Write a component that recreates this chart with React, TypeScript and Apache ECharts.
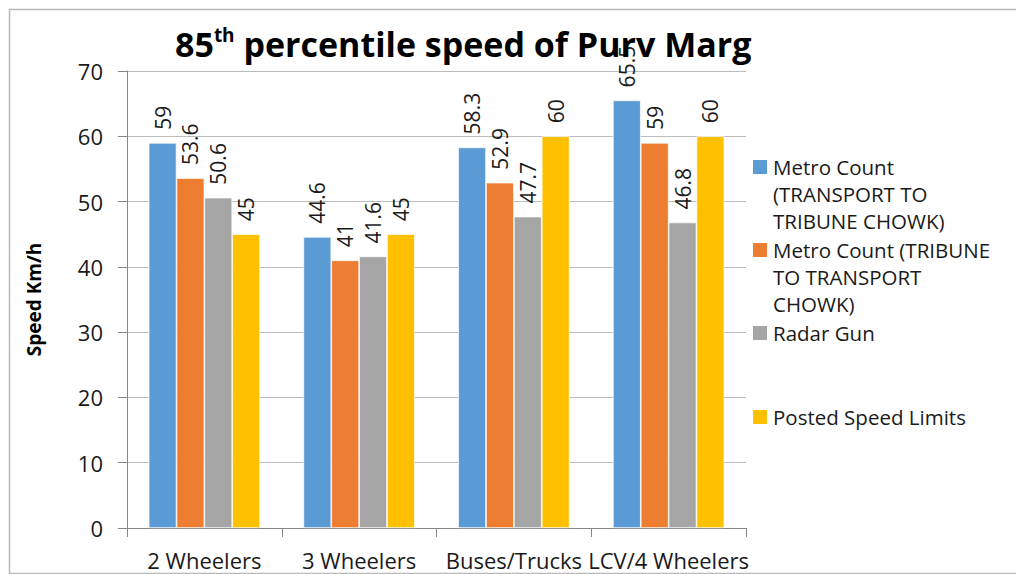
import React, { useEffect, useRef } from "react";
import * as echarts from "echarts";

const categories = ["2 Wheelers", "3 Wheelers", "Buses/Trucks", "LCV/4 Wheelers"];
const seriesNames = [
  "Metro Count (TRANSPORT TO TRIBUNE CHOWK)",
  "Metro Count (TRIBUNE TO TRANSPORT CHOWK)",
  "Radar Gun",
  "Posted Speed Limits",
];
const legendLines = [
  ["Metro Count", "(TRANSPORT TO", "TRIBUNE CHOWK)"],
  ["Metro Count (TRIBUNE", "TO TRANSPORT", "CHOWK)"],
  ["Radar Gun"],
  ["Posted Speed Limits"],
];
const metroTransportToTribune = [59, 44.6, 58.3, 65.5];
const metroTribuneToTransport = [53.6, 41, 52.9, 59];
const radarGun = [50.6, 41.6, 47.7, 46.8];
const postedLimits = [45, 45, 60, 60];
const colors = ["#5B9BD5", "#ED7D31", "#A5A5A5", "#FFC000"];
const yTicks = { min: 0, max: 70, interval: 10 };
const legendCenters = [167, 250, 333, 417];

const FONT = "'Open Sans', 'Noto Sans', sans-serif";

export default function App() {
  const ref = useRef<HTMLDivElement>(null);
  useEffect(() => {
    if (!ref.current) return;
    const chart = echarts.init(ref.current, null, { renderer: "svg" });
    const values = [metroTransportToTribune, metroTribuneToTransport, radarGun, postedLimits];
    const legendGraphics: any[] = [];
    const LH = 27;
    legendLines.forEach((lines, i) => {
      legendGraphics.push({
        type: "rect",
        left: 753,
        top: legendCenters[i] - 7,
        shape: { width: 14, height: 14 },
        style: { fill: colors[i] },
      });
      legendGraphics.push({
        type: "text",
        left: 773,
        top: legendCenters[i] - LH / 2,
        style: {
          text: lines.join("\n"),
          font: `20.5px ${FONT}`,
          fill: "#1a1a1a",
          lineHeight: LH,
        },
      });
    });
    chart.setOption({
      animation: false,
      textStyle: { fontFamily: FONT },
      title: {
        left: 170,
        top: 11,
        text: "{a|85}{s|th}{a| percentile speed of Purv Marg}",
        textStyle: {
          rich: {
            a: { fontSize: 34, fontWeight: "bold", color: "#000", fontFamily: FONT, lineHeight: 45, verticalAlign: "bottom" },
            s: {
              fontSize: 19,
              fontWeight: "bold",
              color: "#000",
              fontFamily: FONT,
              verticalAlign: "bottom",
              lineHeight: 22,
              padding: [0, 0, 17, 0],
            },
          },
        },
      },
      legend: { show: false, data: seriesNames },
      graphic: [
        {
          type: "rect",
          left: 7,
          top: 7,
          silent: true,
          shape: { width: 1030, height: 564 },
          style: { fill: "none", stroke: "#b9b9b9", lineWidth: 1.5 },
          z: -10,
        },
        ...legendGraphics,
      ],
      grid: { left: 127, right: 270, top: 71, bottom: 46, containLabel: false },
      xAxis: {
        type: "category",
        data: categories,
        axisLine: { lineStyle: { color: "#868686", width: 1 } },
        axisTick: { show: true, length: 9, lineStyle: { color: "#868686" } },
        axisLabel: { color: "#1a1a1a", fontSize: 22, margin: 21, fontFamily: FONT, interval: 0 },
      },
      yAxis: {
        type: "value",
        min: yTicks.min,
        max: yTicks.max,
        interval: yTicks.interval,
        name: "Speed Km/h",
        nameLocation: "middle",
        nameGap: 84,
        nameTextStyle: { fontSize: 19, fontWeight: "bold", color: "#000", fontFamily: FONT },
        axisLine: { show: true, lineStyle: { color: "#868686" } },
        axisTick: { show: true, length: 9, lineStyle: { color: "#868686" } },
        axisLabel: { color: "#1a1a1a", fontSize: 22, margin: 24, fontFamily: FONT },
        splitLine: { show: true, lineStyle: { color: "#bcbcbc", width: 1 } },
      },
      series: values.map((v, i) => ({
        name: seriesNames[i],
        type: "bar",
        data: v,
        barGap: "0%",
        barCategoryGap: "28%",
        itemStyle: { color: colors[i], borderColor: "#fff", borderWidth: 0.7 },
        label: {
          show: true,
          position: "top",
          rotate: 90,
          align: "left",
          verticalAlign: "middle",
          distance: 13,
          fontSize: 21,
          color: "#1a1a1a",
          fontFamily: FONT,
        },
      })),
    });
    return () => chart.dispose();
  }, []);
  return (
    <div
      ref={ref}
      style={{ position: "fixed", left: 0, top: 0, width: 1016, height: 574, background: "#fff" }}
    />
  );
}
